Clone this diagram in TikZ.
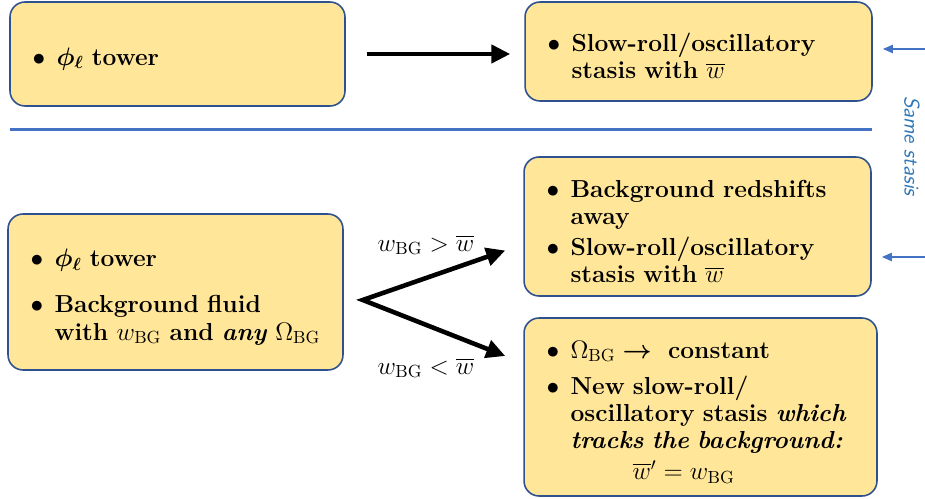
\documentclass[tikz,border=0pt]{standalone}
\usepackage{amsmath}
\usepackage{bm}
\usepackage{tikz}
\usetikzlibrary{calc}
\usetikzlibrary{arrows.meta}
\usetikzlibrary{positioning}
\definecolor{sandfill}{RGB}{255, 230, 153}
\definecolor{navyline}{RGB}{47, 82, 143}
\definecolor{steelblue}{RGB}{68, 114, 196}
\definecolor{oceanblue}{RGB}{46, 117, 182}
\newcommand{\bitem}[2][0pt]{\par\vspace{#1}\noindent\makebox[0.48cm][l]{$\bullet$}%
  \parbox[t]{\dimexpr\hsize-0.48cm\relax}{\raggedright #2}}
\newcommand{\wbar}{\overline{w}}
\newcommand{\BG}{_{\mathrm{BG}}}
\tikzset{
  stasisbox/.style={draw=navyline, fill=sandfill, line width=0.9pt, rounded corners=0.3cm,
                    align=left, inner xsep=0.45cm, inner ysep=0pt,
                    font=\fontsize{14}{15.5}\selectfont\bfseries},
  flowarrow/.style={line width=2.6pt, -{Triangle[length=0.38cm,width=0.36cm]}},
  forkarrow/.style={line width=2.6pt, line join=miter, {Triangle[length=0.38cm,width=0.36cm]}-{Triangle[length=0.38cm,width=0.36cm]}},
  markarrow/.style={steelblue, line width=1.1pt, -{Triangle[length=0.2cm,width=0.16cm]}},
}

\begin{document}
\begin{tikzpicture}[x=0.02cm, y=-0.02cm]
        \useasboundingbox (0,0) rectangle (925,499);
        % top row
        \node[stasisbox, text width=5.8cm,  minimum height=2.08cm] (boxA) at (177.5, 54.0)
             {\bitem{$\bm{\phi}_{\bm{\ell}}$ tower}};
        \node[stasisbox, text width=6.04cm, minimum height=1.98cm] (boxB) at (698.5, 51.5)
             {\bitem{Slow-roll/oscillatory\\stasis with $\wbar$}};
        \draw[flowarrow, shorten <=0.42cm, shorten >=0.28cm] (boxA.east) -- (boxA.east -| boxB.west);
        \draw[steelblue, line width=1.2pt] (10,129.5) -- (872,129.5);
        % bottom row
        \node[stasisbox, text width=5.8cm,  minimum height=3.12cm] (boxC) at (175.5,292.0)
             {\bitem{$\bm{\phi}_{\bm{\ell}}$ tower}
              \bitem[11pt]{Background fluid\\with $w\BG$ and \textit{any} $\Omega\BG$}};
        \node[stasisbox, text width=6.04cm, minimum height=2.78cm] (boxD) at (697.5,226.5)
             {\bitem{Background redshifts\\away}
              \bitem[3pt]{Slow-roll/oscillatory\\stasis with $\wbar$}};
        \node[stasisbox, text width=6.16cm, minimum height=3.56cm] (boxE) at (700.5,407.0)
             {\bitem{$\Omega\BG \bm{\rightarrow}$ \ constant}
              \bitem[5pt]{New slow-roll/\\oscillatory stasis \textit{which}\\\textit{tracks the background:}\\[2pt]\hspace*{1.24cm}$\wbar' = w\BG$}};
        \coordinate (fork)     at ($(boxC.east)+(19,8)$);
        \coordinate (upTip)    at ($(boxD.west)+(-18,24)$);
        \coordinate (downTip)  at ($(boxE.west)+(-18,-51)$);
        \draw[forkarrow] (upTip) -- (fork) -- (downTip);
        \node[font=\fontsize{14}{16}\selectfont] (gtLabel) at (426,245) {$w\BG > \wbar$};
        \node[font=\fontsize{14}{16}\selectfont] (ltLabel) at (426,368) {$w\BG < \wbar$};
        % same stasis marker
        \coordinate (markTop) at (926, 49);
        \coordinate (markBot) at (926,257);
        \draw[steelblue, line width=1.1pt] (markTop) -- (markBot);
        \draw[markarrow, shorten >=0.2cm] (markTop) -- (markTop -| boxB.east);
        \draw[markarrow, shorten >=0.2cm] (markBot) -- (markBot -| boxD.east);
        \node[rotate=-90, text=oceanblue, font=\fontsize{12}{14}\selectfont\sffamily\itshape] (sameLabel) at (912,146) {Same stasis};
\end{tikzpicture}
\end{document}
